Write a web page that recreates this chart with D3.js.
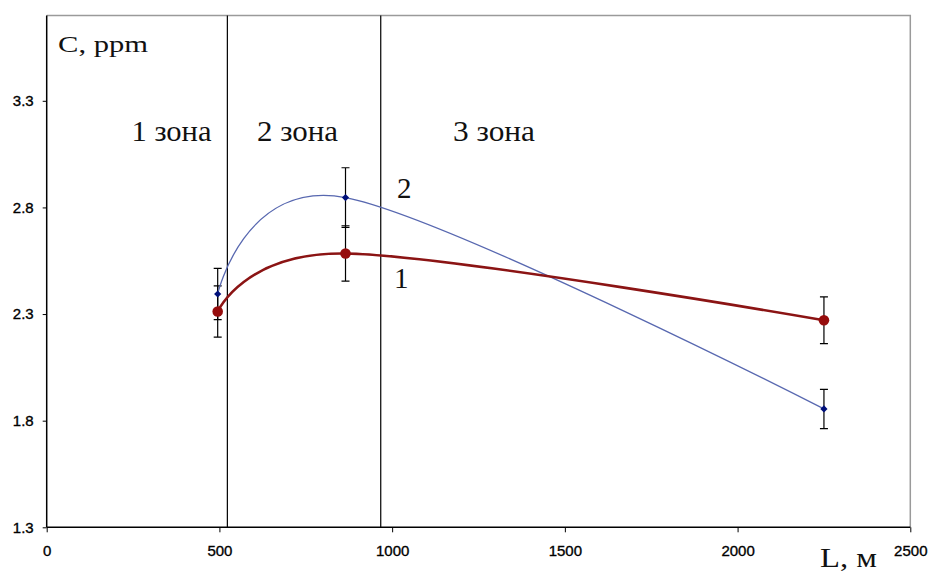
<!DOCTYPE html>
<html>
<head>
<meta charset="utf-8">
<script src="https://cdn.jsdelivr.net/npm/d3@7"></script>
<style>
  html, body { margin: 0; padding: 0; background: #fff; }
  svg { display: block; }
</style>
</head>
<body>
<svg id="chart" width="928" height="575"></svg>
<script>
// ---- data ----
const xTicks = [0, 500, 1000, 1500, 2000, 2500];
const yTicks = [1.3, 1.8, 2.3, 2.8, 3.3];
const distances = [495, 865, 2250];
const series1 = [2.312, 2.584, 2.271];   // curve 1 (red)
const series1Err = [0.12, 0.13, 0.11];
const series2 = [2.394, 2.846, 1.855];   // curve 2 (blue)
const series2Err = [0.12, 0.14, 0.092];
const zoneBounds = [523, 967];
const zoneLabels = ["1 зона", "2 зона", "3 зона"];

// ---- layout ----
const svg = d3.select("#chart");
const x = d3.scaleLinear().domain([0, 2500]).range([46.7, 910.3]);
const y = d3.scaleLinear().domain([1.3, 3.7]).range([527.3, 15.5]);

// frame (top and right, gray)
svg.append("path")
  .attr("d", `M${x(0)},${y(3.7)}H${x(2500)}V${y(1.3)}`)
  .attr("fill", "none").attr("stroke", "#9a9a9a").attr("stroke-width", 1.5);

// zone boundaries
svg.selectAll(".zone").data(zoneBounds).join("line")
  .attr("x1", d => x(d)).attr("x2", d => x(d))
  .attr("y1", y(3.7)).attr("y2", y(1.3))
  .attr("stroke", "#000").attr("stroke-width", 1.2);

// axes
const sans = "'Liberation Sans', Arial, sans-serif";
const yAxis = d3.axisLeft(y).tickValues(yTicks).tickFormat(d3.format(".1f"))
  .tickSize(4).tickPadding(9);
const gy = svg.append("g").attr("transform", `translate(${x(0)},0)`).call(yAxis);
const xAxis = d3.axisBottom(x).tickValues(xTicks).tickFormat(d3.format("d"))
  .tickSize(5).tickPadding(13);
const gx = svg.append("g").attr("transform", `translate(0,${y(1.3)})`).call(xAxis);
[gx, gy].forEach(g => {
  g.attr("font-family", sans).attr("font-size", 15);
  g.select(".domain").attr("stroke", "#000").attr("stroke-width", 1.5);
  g.selectAll(".tick line").attr("stroke", "#000");
  g.selectAll(".tick text").attr("font-family", sans)
    .attr("font-size", 15).attr("fill", "#000")
    .attr("stroke", "#000").attr("stroke-width", 0.35);
});
gy.select(".domain").attr("d", `M0,${y(3.7)}V${y(1.3)}`);
gx.select(".domain").attr("d", `M${x(0)},0H${x(2500)}`);

// curves
const line = d3.line().x(d => x(d[0])).y(d => y(d[1])).curve(d3.curveCardinal.tension(0));
const pts2 = distances.map((d, i) => [d, series2[i]]);
const pts1 = distances.map((d, i) => [d, series1[i]]);

function errorBars(vals, errs) {
  const g = svg.append("g");
  distances.forEach((d, i) => {
    const cx = x(d), yt = y(vals[i] + errs[i]), yb = y(vals[i] - errs[i]);
    g.append("path")
      .attr("d", `M${cx},${yt}V${yb}M${cx - 4},${yt}H${cx + 4}M${cx - 4},${yb}H${cx + 4}`)
      .attr("stroke", "#000").attr("stroke-width", 1.2).attr("fill", "none");
  });
}
errorBars(series2, series2Err);
errorBars(series1, series1Err);

svg.append("path").datum(pts2).attr("d", line)
  .attr("fill", "none").attr("stroke", "#5868b0").attr("stroke-width", 1.3);
svg.append("path").datum(pts1).attr("d", line)
  .attr("fill", "none").attr("stroke", "#8b1414").attr("stroke-width", 2.6);

// markers
svg.selectAll(".m2").data(pts2).join("path")
  .attr("transform", d => `translate(${x(d[0])},${y(d[1])})`)
  .attr("d", "M0,-3.6L3.6,0L0,3.6L-3.6,0Z").attr("fill", "#00107a");
svg.selectAll(".m1").data(pts1).join("circle")
  .attr("cx", d => x(d[0])).attr("cy", d => y(d[1])).attr("r", 5.3)
  .attr("fill", "#960d0d");

// annotations
const serif = "'Liberation Serif', 'Times New Roman', serif";
const ann = (t, px, py, size, len) => {
  const el = svg.append("text").attr("x", px).attr("y", py)
    .style("font-family", serif).attr("font-size", size).attr("fill", "#111").text(t);
  if (len) el.attr("textLength", len).attr("lengthAdjust", "spacingAndGlyphs");
  return el;
};
ann("C, ppm", 58, 52, 24, 90);
ann(zoneLabels[0], 131.5, 140.5, 29, 80);
ann(zoneLabels[1], 257, 140.5, 29, 81);
ann(zoneLabels[2], 453, 140.5, 29, 82);
ann("2", 397, 198, 29);
ann("1", 394, 287.5, 29);
ann("L, м", 820, 567, 28, 57);
</script>
</body>
</html>
